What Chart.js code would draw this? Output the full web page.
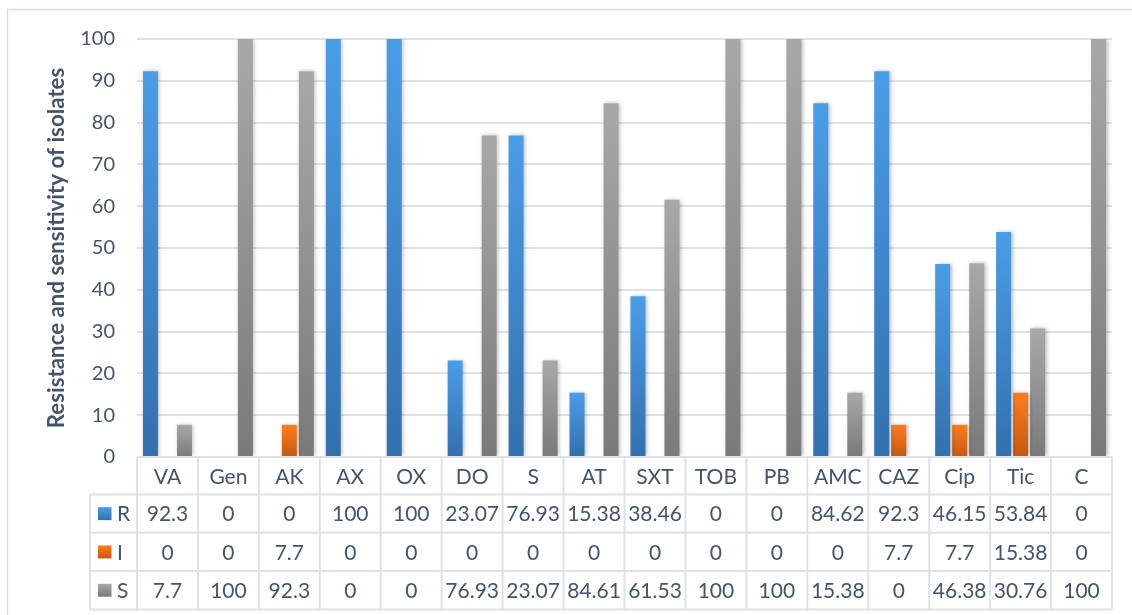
<!DOCTYPE html>
<html>
<head>
<meta charset="utf-8">
<script src="https://cdn.jsdelivr.net/npm/chart.js@4.4.1/dist/chart.umd.min.js"></script>
<style>
  html, body { margin: 0; padding: 0; background: #ffffff; overflow: hidden; }
  canvas { display: block; }
</style>
</head>
<body>
<canvas id="chart" width="1132" height="615"></canvas>
<script>
// Antibiotic panel and the share of isolates in each class (%)
const categories = ['VA', 'Gen', 'AK', 'AX', 'OX', 'DO', 'S', 'AT', 'SXT', 'TOB', 'PB', 'AMC', 'CAZ', 'Cip', 'Tic', 'C'];
const seriesNames = ['R', 'I', 'S'];
const resistant    = [92.3, 0, 0, 100, 100, 23.07, 76.93, 15.38, 38.46, 0, 0, 84.62, 92.3, 46.15, 53.84, 0];
const intermediate = [0, 0, 7.7, 0, 0, 0, 0, 0, 0, 0, 0, 0, 7.7, 7.7, 15.38, 0];
const sensitive    = [7.7, 100, 92.3, 0, 0, 76.93, 23.07, 84.61, 61.53, 100, 100, 15.38, 0, 46.38, 30.76, 100];
const yAxisTitle = 'Resistance and sensitivity of isolates';

const TEXT = '#44546A';
const LINE = '#DEE2E8';
const FONT = 'Lato, "Open Sans", sans-serif';

// top / bottom colours of each series' vertical gradient
const shades = [
  ['#4A9DE8', '#3370AE'],
  ['#FF7D1E', '#C45811'],
  ['#A8A8A8', '#7A7A7A']
];

function barFill(top, bottom) {
  return (c) => {
    const chart = c.chart;
    const y = chart.scales && chart.scales.y;
    if (!y || c.type !== 'data') return bottom;
    const v = c.parsed ? c.parsed.y : c.raw;
    const y0 = y.getPixelForValue(0);
    const y1 = y.getPixelForValue(v);
    if (!isFinite(y0) || !isFinite(y1) || Math.abs(y0 - y1) < 0.5) return bottom;
    const g = chart.ctx.createLinearGradient(0, y1, 0, y0);
    g.addColorStop(0, top);
    g.addColorStop(1, bottom);
    return g;
  };
}

// light frame around the whole chart
const frame = {
  id: 'frame',
  beforeDraw(chart) {
    const ctx = chart.ctx;
    ctx.save();
    ctx.strokeStyle = '#D9DCE1';
    ctx.lineWidth = 1.5;
    ctx.strokeRect(7.5, 9.5, 1200, 700);
    ctx.restore();
  }
};

// soft drop shadow behind the columns
const barShadow = {
  id: 'barShadow',
  beforeDatasetsDraw(chart) {
    const ctx = chart.ctx;
    ctx.save();
    ctx.shadowColor = 'rgba(0,0,0,0.25)';
    ctx.shadowBlur = 4;
    ctx.shadowOffsetX = 1.5;
    ctx.shadowOffsetY = 0;
  },
  afterDatasetsDraw(chart) {
    chart.ctx.restore();
  }
};

// data table under the plot: category header, legend keys and values
const dataTable = {
  id: 'dataTable',
  afterDraw(chart) {
    const ctx = chart.ctx;
    const area = chart.chartArea;
    const xs = chart.scales.x;
    const n = categories.length;
    const colW = (area.right - area.left) / n;
    const top = area.bottom;
    const headH = 37.5;
    const rowH = 38.3;
    const legendLeft = 90;
    const rows = [resistant, intermediate, sensitive];
    const bottom = top + headH + rowH * rows.length;

    ctx.save();
    ctx.strokeStyle = LINE;
    ctx.lineWidth = 2;
    ctx.beginPath();
    // horizontal rules
    ctx.moveTo(area.left, top); ctx.lineTo(area.right, top);
    for (let r = 0; r <= rows.length; r++) {
      const yy = top + headH + rowH * r;
      ctx.moveTo(legendLeft, yy); ctx.lineTo(area.right, yy);
    }
    // vertical rules
    for (let i = 0; i <= n; i++) {
      const xx = area.left + colW * i;
      ctx.moveTo(xx, top); ctx.lineTo(xx, bottom);
    }
    ctx.moveTo(legendLeft, top + headH); ctx.lineTo(legendLeft, bottom);
    ctx.stroke();

    ctx.fillStyle = TEXT;
    ctx.font = '21px ' + FONT;
    ctx.textAlign = 'center';
    ctx.textBaseline = 'middle';
    categories.forEach((cat, i) => {
      ctx.fillText(cat, xs.getPixelForValue(i), top + headH / 2 + 1);
    });
    rows.forEach((vals, r) => {
      const cy = top + headH + rowH * r + rowH / 2 + 1;
      vals.forEach((v, i) => {
        ctx.fillText(String(v), xs.getPixelForValue(i), cy);
      });
    });

    // legend keys
    rows.forEach((vals, r) => {
      const cy = top + headH + rowH * r + rowH / 2;
      const g = ctx.createLinearGradient(0, cy - 6.5, 0, cy + 6.5);
      g.addColorStop(0, shades[r][0]);
      g.addColorStop(1, shades[r][1]);
      ctx.fillStyle = g;
      ctx.fillRect(98, cy - 6.5, 13.5, 13);
      ctx.fillStyle = TEXT;
      ctx.textAlign = 'left';
      ctx.fillText(seriesNames[r], 117, cy + 1);
    });

    // vertical axis title, sized to run from y=68 to y=428
    ctx.translate(57, 248);
    ctx.rotate(-Math.PI / 2);
    ctx.font = 'bold 20px ' + FONT;
    const size = 20 * 360 / ctx.measureText(yAxisTitle).width;
    ctx.font = 'bold ' + size.toFixed(1) + 'px ' + FONT;
    ctx.textAlign = 'center';
    ctx.fillStyle = TEXT;
    ctx.fillText(yAxisTitle, 0, 0);
    ctx.restore();
  }
};

new Chart(document.getElementById('chart'), {
  type: 'bar',
  data: {
    labels: categories,
    datasets: [resistant, intermediate, sensitive].map((vals, k) => ({
      label: seriesNames[k],
      data: vals,
      backgroundColor: barFill(shades[k][0], shades[k][1]),
      borderWidth: 0,
      categoryPercentage: 0.837,
      barPercentage: 0.882
    }))
  },
  options: {
    responsive: false,
    animation: false,
    devicePixelRatio: 1,
    layout: { padding: { top: 39, right: 20, bottom: 158, left: 0 } },
    plugins: {
      legend: { display: false },
      title: { display: false },
      tooltip: { enabled: false }
    },
    scales: {
      x: {
        ticks: { display: false },
        grid: { display: false },
        border: { display: false },
        afterFit(scale) { scale.height = 0; }
      },
      y: {
        min: 0,
        max: 100,
        ticks: {
          stepSize: 10,
          color: TEXT,
          padding: 22,
          font: { family: FONT, size: 20 }
        },
        grid: { color: LINE, lineWidth: 2, drawTicks: false },
        border: { display: false },
        afterFit(scale) { scale.width = 137; }
      }
    }
  },
  plugins: [frame, barShadow, dataTable]
});
</script>
</body>
</html>
